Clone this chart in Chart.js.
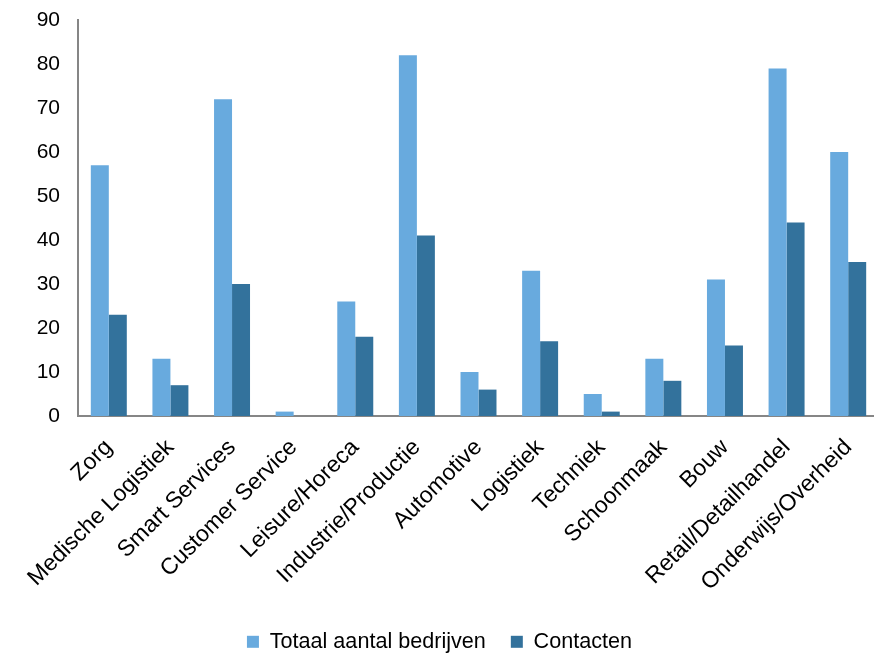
<!DOCTYPE html>
<html>
<head>
<meta charset="utf-8">
<script src="https://cdn.jsdelivr.net/npm/chart.js@4/dist/chart.umd.min.js"></script>
<style>
  html, body { margin: 0; padding: 0; background: #fff; overflow: hidden; }
  #wrap { width: 879px; height: 654px; }
</style>
</head>
<body>
<div id="wrap"><canvas id="chart" width="879" height="654"></canvas></div>
<script>
// Sectoren en aantallen
const sectoren = ['Zorg', 'Medische Logistiek', 'Smart Services', 'Customer Service', 'Leisure/Horeca',
    'Industrie/Productie', 'Automotive', 'Logistiek', 'Techniek', 'Schoonmaak', 'Bouw',
    'Retail/Detailhandel', 'Onderwijs/Overheid'];
const totaalBedrijven = [57, 13, 72, 1, 26, 82, 10, 33, 5, 13, 31, 79, 60];
const contacten = [23, 7, 30, 0, 18, 41, 6, 17, 1, 8, 16, 44, 35];
const yTicks = [0, 10, 20, 30, 40, 50, 60, 70, 80, 90];

const fontFamily = '"Liberation Sans", Arial, sans-serif';

// legenda lager zetten: hoogte van de legenda vastzetten
const legendaHoogte = {
    id: 'legendaHoogte',
    beforeLayout(chart) {
        const legend = chart.legend;
        if (legend && !legend._vast) {
            const origFit = legend.fit;
            legend.fit = function() {
                origFit.call(this);
                this.height = 48;
            };
            legend._vast = true;
        }
    }
};

const ctx = document.getElementById('chart').getContext('2d');
new Chart(ctx, {
    type: 'bar',
    data: {
        labels: sectoren,
        datasets: [{
            label: 'Totaal aantal bedrijven',
            data: totaalBedrijven,
            backgroundColor: '#68AADE',
            borderWidth: 0
        }, {
            label: 'Contacten',
            data: contacten,
            backgroundColor: '#33729C',
            borderWidth: 0
        }]
    },
    plugins: [legendaHoogte],
    options: {
        responsive: false,
        animation: false,
        layout: { padding: { top: 20, left: 0, right: 0, bottom: 0 } },
        datasets: {
            bar: { barPercentage: 1, categoryPercentage: 0.584 }
        },
        plugins: {
            legend: {
                position: 'bottom',
                labels: {
                    boxWidth: 12,
                    boxHeight: 12,
                    padding: 25,
                    color: '#000',
                    font: { family: fontFamily, size: 21.6 }
                }
            },
            tooltip: { enabled: false }
        },
        scales: {
            x: {
                grid: { display: false, drawTicks: false },
                border: { display: true, color: '#868686', width: 2 },
                ticks: {
                    color: '#000',
                    font: { family: fontFamily, size: 23 },
                    maxRotation: 45,
                    minRotation: 45,
                    autoSkip: false,
                    padding: 18
                },
                afterFit: function(scale) {
                    scale.height = 190;
                    scale.paddingLeft = 0;
                    scale.paddingRight = 0;
                }
            },
            y: {
                min: 0,
                max: 90,
                grid: { display: false, drawTicks: false },
                border: { display: true, color: '#868686', width: 2 },
                afterBuildTicks: function(scale) {
                    scale.ticks = yTicks.map(v => ({ value: v }));
                },
                ticks: {
                    color: '#000',
                    font: { family: fontFamily, size: 21 },
                    padding: 18
                },
                afterFit: function(scale) {
                    scale.width = 78;
                    scale.paddingTop = 0;
                }
            }
        }
    }
});
</script>
</body>
</html>
